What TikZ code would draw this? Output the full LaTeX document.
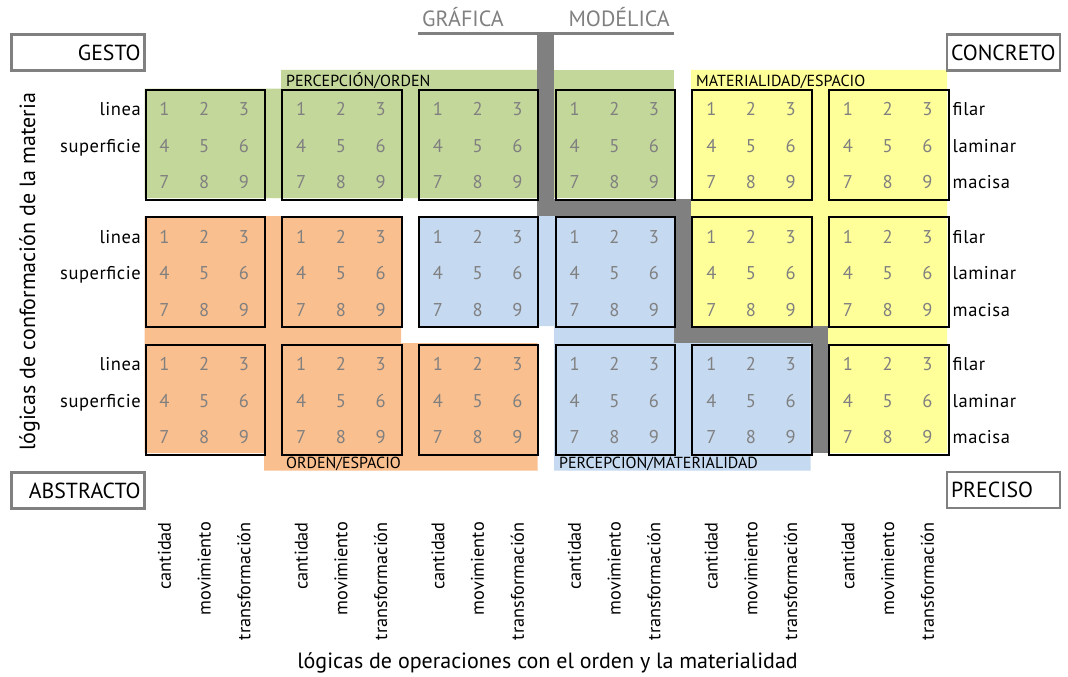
\documentclass[tikz,border=0pt]{standalone}
\usepackage{fontspec}
\setmainfont{PT Sans}
\definecolor{verde}{HTML}{C4D79B}
\definecolor{naranja}{HTML}{FABF8F}
\definecolor{azul}{HTML}{C5D9F1}
\definecolor{amarillo}{HTML}{FFFF99}
\definecolor{gris}{HTML}{808080}
\tikzset{
    celda/.style={draw=black, line width=2pt, minimum width=119.5pt, minimum height=110pt, inner sep=0pt, anchor=north west},
    cifra/.style={text=gris, font=\fontsize{18.5}{20}\selectfont, inner sep=0pt, anchor=base},
    fila/.style={font=\fontsize{18.5}{20}\selectfont\addfontfeature{LetterSpace=3}, inner sep=0pt},
    polo/.style={draw=gris, line width=2.5pt, fill=white, minimum height=36pt, inner xsep=4pt, text height=15pt, text depth=0pt, font=\fontsize{21.8}{24}\selectfont},
    poloizq/.style={polo, minimum width=133pt, text width=125pt, align=right},
    poloder/.style={polo, minimum width=113pt, text width=105pt, align=left},
    banda/.style={font=\fontsize{16}{18}\selectfont, inner sep=0pt, anchor=base west},
    operacion/.style={font=\fontsize{18.3}{20}\selectfont, inner sep=0pt, rotate=90, anchor=east},
    eje/.style={font=\fontsize{22}{24}\selectfont, inner sep=0pt, anchor=base},
    tipo/.style={text=gris, font=\fontsize{22}{24}\selectfont, inner sep=0pt},
}
\begin{document}
\begin{tikzpicture}[x=1pt, y=-1pt]

    \useasboundingbox (0,0) rectangle (1068,677);

    \fill[verde] (144.5,88.5) -- (281,88.5) -- (281,70) -- (537,70) -- (537,198) -- (144.5,198) -- cycle;
    \fill[verde] (554,70) rectangle (674,198);
    \fill[amarillo] (691,70) -- (947,70) -- (947,453) -- (828,453) -- (828,326) -- (691,326) -- cycle;
    \fill[naranja] (144.5,216) -- (401,216) -- (401,343) -- (537.5,343) -- (537.5,470.5) -- (264,470.5) -- (264,453) -- (144.5,453) -- cycle;
    \fill[azul] (418,216) -- (674,216) -- (674,343) -- (810.5,343) -- (810.5,470.5) -- (554,470.5) -- (554,326) -- (418,326) -- cycle;

    \draw[gris, line width=3.5pt] (418,33.5) -- (674,33.5);
    \draw[gris, line width=17pt, line join=miter] (545.5,32) -- (545.5,207) -- (682.5,207) -- (682.5,334.5) -- (819,334.5) -- (819,453);

    \foreach \c in {0,...,5}
        \foreach \r in {0,1,2} {
            \node[celda] (c\c\r) at ({144.5+136.7*\c},{88.5+127.5*\r}) {};
            \foreach \j in {0,1,2}
                \foreach \i in {0,1,2} {
                    \pgfmathtruncatemacro\cifraN{3*\j+\i+1}
                    \node[cifra] (c\c\r-\cifraN) at ([shift={({20+39.7*\i},{27+36.6*\j})}]c\c\r.north west) {\cifraN};
                }
        }

    \foreach \r in {0,1,2} {
        \node[fila, anchor=base east] (linea\r) at ([shift={(-3.5,27)}]c0\r.north west) {linea};
        \node[fila, anchor=base east] (superficie\r) at ([shift={(-3.5,63.6)}]c0\r.north west) {superficie};
        \node[fila, anchor=base west] (filar\r) at ([shift={(3,27)}]c5\r.north east) {filar};
        \node[fila, anchor=base west] (laminar\r) at ([shift={(3,63.6)}]c5\r.north east) {laminar};
        \node[fila, anchor=base west] (macisa\r) at ([shift={(3,100.2)}]c5\r.north east) {macisa};
    }

    \node[banda] (percepcionorden) at (286,86.5) {PERCEPCIÓN/ORDEN};
    \node[banda] (materialidadespacio) at (696,86.5) {MATERIALIDAD/ESPACIO};
    \node[banda] (ordenespacio) at (286,468.5) {ORDEN/ESPACIO};
    \node[banda] (percepcionmaterialidad) at (559,468.5) {PERCEPCIÓN/MATERIALIDAD};

    \node[poloizq] (gesto) at (78,52.5) {GESTO};
    \node[poloder] (concreto) at (1003.5,52.5) {CONCRETO};
    \node[poloizq] (abstracto) at (78,490.5) {ABSTRACTO};
    \node[poloder] (preciso) at (1003.5,490) {PRECISO};

    \node[tipo, anchor=base west] (grafica) at (422,27) {GRÁFICA};
    \node[tipo, anchor=base east] (modelica) at (670,27) {MODÉLICA};

    \foreach \c in {0,...,5}
        \foreach \t [count=\i from 0] in {cantidad, movimiento, transformación}
            \node[operacion] (op\c-\i) at ({164.5+136.7*\c+39.7*\i},522) {\t};

    \node[eje, rotate=90] (ejevertical) at (35,272) {lógicas de conformación de la materia};
    \node[eje] (ejehorizontal) at (547.5,668) {lógicas de operaciones con el orden y la materialidad};

\end{tikzpicture}
\end{document}
